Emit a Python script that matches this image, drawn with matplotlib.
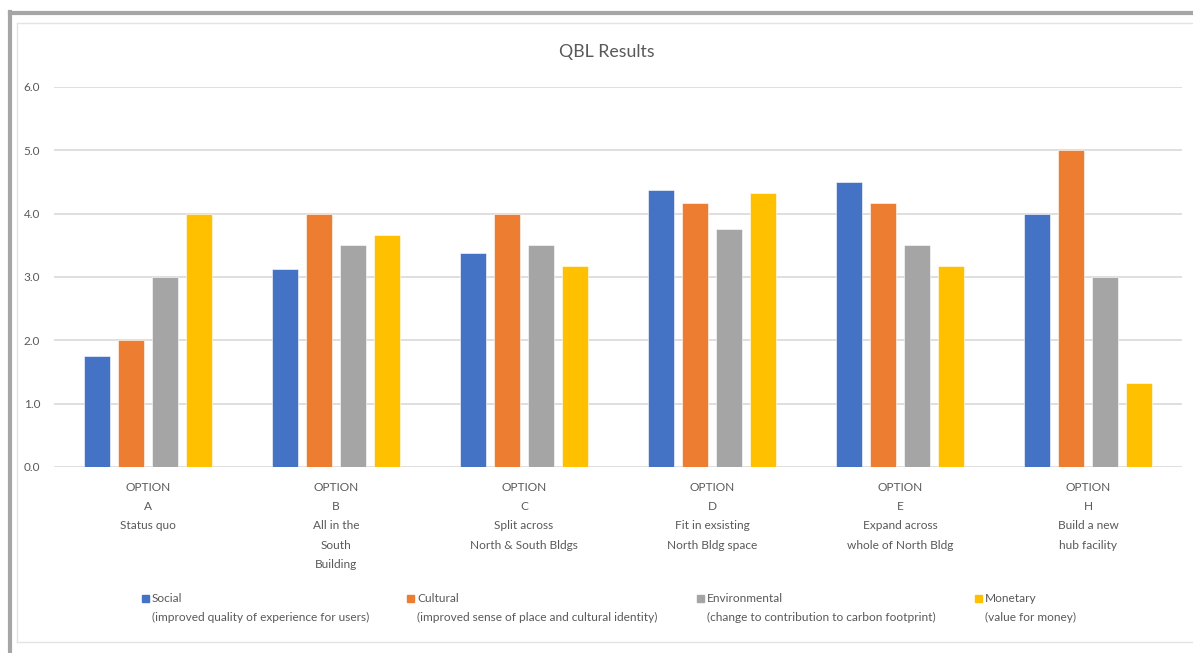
import numpy as np
import matplotlib.pyplot as plt
from matplotlib.patches import Rectangle
from matplotlib.lines import Line2D

plt.rcParams['font.family'] = ['Lato', 'DejaVu Sans']

# QBL scores per option
options = ['OPTION\nA\nStatus quo',
           'OPTION\nB\nAll in the\nSouth\nBuilding',
           'OPTION\nC\nSplit across\nNorth & South Bldgs',
           'OPTION\nD\nFit in exsisting\nNorth Bldg space',
           'OPTION\nE\nExpand across\nwhole of North Bldg',
           'OPTION\nH\nBuild a new\nhub facility']
social = [1.75, 3.125, 3.375, 4.375, 4.5, 4.0]
cultural = [2.0, 4.0, 4.0, 4.17, 4.17, 5.0]
environmental = [3.0, 3.5, 3.5, 3.75, 3.5, 3.0]
monetary = [4.0, 3.67, 3.17, 4.33, 3.17, 1.33]

series_names = ['Social', 'Cultural', 'Environmental', 'Monetary']
series_notes = ['(improved quality of experience for users)',
                '(improved sense of place and cultural identity)',
                '(change to contribution to carbon footprint)',
                '(value for money)']
colors = ['#4472C4', '#ED7D31', '#A5A5A5', '#FFC000']
txt = '#595959'

fig = plt.figure(figsize=(11.93, 6.53), dpi=100)
ax = fig.add_axes([0.0453, 0.2849, 0.9455, 0.5819])

x = np.arange(len(options))
step = 0.18
width = 0.14
for i, vals in enumerate([social, cultural, environmental, monetary]):
    ax.bar(x + (i - 1.5) * step, vals, width, color=colors[i],
           edgecolor='white', linewidth=0.4, zorder=3)

ax.set_xlim(-0.5, len(options) - 0.5)
ax.set_ylim(0, 6)
ax.set_yticks(np.arange(0, 6.5, 1.0))
ax.set_yticklabels([f'{v:.1f}' for v in np.arange(0, 6.5, 1.0)], color=txt, fontsize=8.5)
ax.yaxis.grid(True, color='#d9d9d9', linewidth=1.2, zorder=0)
ax.set_xticks(x)
ax.set_xticklabels(options, color=txt, fontsize=8.6, linespacing=1.9, va='top')
ax.tick_params(axis='both', length=0)
ax.tick_params(axis='x', pad=11)
ax.tick_params(axis='y', pad=10)
for s in ax.spines.values():
    s.set_visible(False)

fig.text(0.509, 1 - 52 / 653, 'QBL Results', ha='center', va='center', fontsize=12.8, color=txt)

# legend drawn by hand so the note sits under each name
W, H = 1193, 653
leg_x = [142, 407, 697, 975]
for i in range(4):
    fig.patches.append(Rectangle((leg_x[i] / W, 1 - 602 / H), 7 / W, 7 / H,
                                 transform=fig.transFigure, color=colors[i]))
    fig.text((leg_x[i] + 10) / W, 1 - 598 / H, series_names[i], fontsize=8.6,
             color=txt, va='center', ha='left')
    fig.text((leg_x[i] + 10) / W, 1 - 617 / H, series_notes[i], fontsize=8.6,
             color=txt, va='center', ha='left')

# chart frame
fig.lines.append(Line2D([10 / W, 10 / W], [0, 1 - 12 / H], transform=fig.transFigure,
                        color='#a6a6a6', linewidth=3))
fig.lines.append(Line2D([10 / W, 1], [1 - 13 / H, 1 - 13 / H], transform=fig.transFigure,
                        color='#a6a6a6', linewidth=3))
fig.lines.append(Line2D([17 / W, 17 / W], [1 - 642 / H, 1 - 23 / H], transform=fig.transFigure,
                        color='#e3e3e3', linewidth=1))
fig.lines.append(Line2D([17 / W, 1], [1 - 23 / H, 1 - 23 / H], transform=fig.transFigure,
                        color='#e3e3e3', linewidth=1))
fig.lines.append(Line2D([17 / W, 1], [1 - 642 / H, 1 - 642 / H], transform=fig.transFigure,
                        color='#e3e3e3', linewidth=1))

fig.savefig('out.png', dpi=100)
